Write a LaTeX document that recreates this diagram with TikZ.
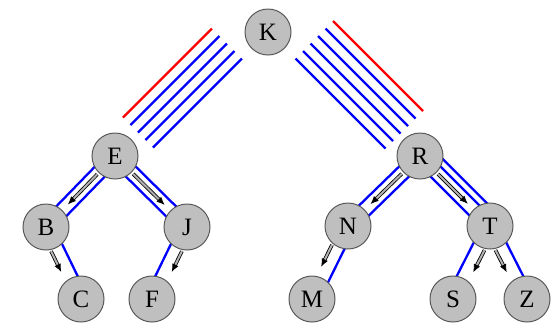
\documentclass[tikz,border=0pt]{standalone}
\usepackage{fontspec}
\setmainfont{Liberation Serif}
\usetikzlibrary{calc,backgrounds,arrows.meta}
\tikzset{
    vtx/.style={circle,draw=black!65,fill=gray!50,line width=0.5pt,minimum size=23pt,inner sep=0pt,font=\fontsize{12.5}{14}\selectfont},
    cnt/.style={blue,line width=1.15pt},
    cut/.style={red,line width=1.15pt},
    ptr/.style={draw=black,line width=0.4pt,double=gray!60,double distance=1pt,-{Latex[length=4pt,width=3.4pt]}},
}
\newcommand\sideline[4][cnt]{\draw[#1] ($(#2)!#4!90:(#3)$) -- ($(#3)!#4!-90:(#2)$);}

\begin{document}
\begin{tikzpicture}[x=0.5pt,y=-0.5pt]
    \useasboundingbox (0,0) rectangle (552,323);
    \node[vtx] (K) at (268,32) {K};
    \node[vtx] (E) at (115,156) {E};
    \node[vtx] (R) at (420,156) {R};
    \node[vtx] (B) at (46,227) {B};
    \node[vtx] (J) at (187,227) {J};
    \node[vtx] (N) at (348,226) {N};
    \node[vtx] (T) at (490,226) {T};
    \node[vtx] (C) at (81,299) {C};
    \node[vtx] (F) at (152,299) {F};
    \node[vtx] (M) at (312,299) {M};
    \node[vtx] (S) at (453,299) {S};
    \node[vtx] (Z) at (527,299) {Z};
    \begin{scope}[on background layer]
        % bundles hanging off K
        \draw[cut] ($(K)+(-56,-3.5)$) -- ++(-89,89);
        \foreach \i in {1,...,4}
            \draw[cnt] ($(K)+(-56+7.5*\i,-3.5+7.5*\i)$) -- ++(-89,89);
        \draw[cut] ($(K)+(65,-11)$) -- ++(90,90);
        \foreach \i in {1,...,5}
            \draw[cnt] ($(K)+(65-7.5*\i,-11+7.5*\i)$) -- ++(90,90);
        % second level
        \foreach \a/\b in {E/B,E/J,R/N,R/T}{
            \draw[ptr,shorten <=1pt,shorten >=4pt] (\a) -- (\b);
            \sideline{\a}{\b}{3.5pt}
            \sideline{\a}{\b}{-3.5pt}
        }
        \sideline{R}{T}{7pt}
        % third level
        \foreach \a/\b/\s in {B/C/1,J/F/-1,N/M/1,T/S/-1,T/Z/1}{
            \draw[ptr,shorten <=12pt,shorten >=16.5pt] ($(\a)!-3pt*\s!90:(\b)$) -- ($(\b)!-3pt*\s!-90:(\a)$);
            \sideline{\a}{\b}{3.5pt*\s}
        }
    \end{scope}
\end{tikzpicture}
\end{document}
